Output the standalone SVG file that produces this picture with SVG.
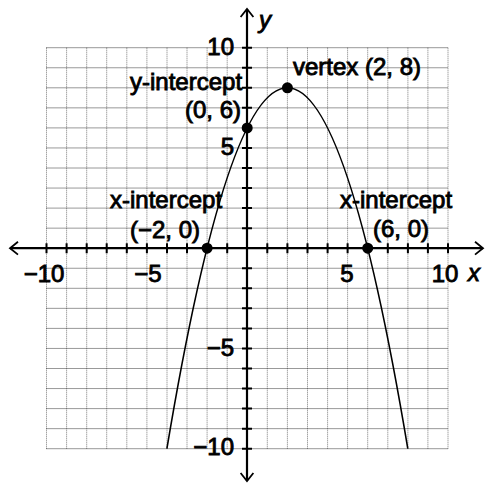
<svg xmlns="http://www.w3.org/2000/svg" width="488" height="484" viewBox="0 0 488 484">
<style>
.gv{stroke:#7a7a7a;stroke-width:1;stroke-dasharray:1 1;fill:none}
.gh{stroke:#333;stroke-width:1;stroke-dasharray:1 1;fill:none}
.ax{stroke:#000;stroke-width:2.2;fill:none}
.tk{stroke:#000;stroke-width:2;fill:none}
.ar{stroke:#000;stroke-width:1.8;fill:none;stroke-linejoin:miter}
.cv{stroke:#000;stroke-width:1.6;fill:none}
.pt{fill:#000}
text{font-family:"Liberation Sans",Arial,sans-serif;font-size:24px;fill:#000;stroke:#000;stroke-width:0.9}
.r{text-anchor:end}
.m{text-anchor:middle}
.i{font-style:italic}
</style>
<rect width="488" height="484" fill="#fff"/>
<g id="grid">
<path class="gv" d="M46.5,47.7V448.7M66.6,47.7V448.7M86.7,47.7V448.7M106.7,47.7V448.7M126.8,47.7V448.7M146.9,47.7V448.7M167,47.7V448.7M187,47.7V448.7M207.1,47.7V448.7M227.2,47.7V448.7M267.3,47.7V448.7M287.4,47.7V448.7M307.5,47.7V448.7M327.6,47.7V448.7M347.6,47.7V448.7M367.7,47.7V448.7M387.8,47.7V448.7M407.9,47.7V448.7M427.9,47.7V448.7M448,47.7V448.7"/>
<path class="gh" d="M46.5,47.7H448M46.5,67.75H448M46.5,87.8H448M46.5,107.85H448M46.5,127.9H448M46.5,147.95H448M46.5,168H448M46.5,188.05H448M46.5,208.1H448M46.5,228.15H448M46.5,268.25H448M46.5,288.3H448M46.5,308.35H448M46.5,328.4H448M46.5,348.45H448M46.5,368.5H448M46.5,388.55H448M46.5,408.6H448M46.5,428.65H448M46.5,448.7H448"/>
</g>
<g id="axes">
<path class="ax" d="M10,248.2H483M247,9V481"/>
<path class="ar" d="M18,241.8L10,248.2L18,254.6M475,241.8L483,248.2L475,254.6M240.6,17L247,9L253.4,17M240.6,473L247,481L253.4,473"/>
<path class="tk" d="M46.5,243.2v10M66.6,243.2v10M86.7,243.2v10M106.7,243.2v10M126.8,243.2v10M146.9,243.2v10M167,243.2v10M187,243.2v10M207.1,243.2v10M227.2,243.2v10M267.3,243.2v10M287.4,243.2v10M307.5,243.2v10M327.6,243.2v10M347.6,243.2v10M367.7,243.2v10M387.8,243.2v10M407.9,243.2v10M427.9,243.2v10M448,243.2v10"/>
<path class="tk" d="M242,47.7h10M242,67.75h10M242,87.8h10M242,107.85h10M242,127.9h10M242,147.95h10M242,168h10M242,188.05h10M242,208.1h10M242,228.15h10M242,268.25h10M242,288.3h10M242,308.35h10M242,328.4h10M242,348.45h10M242,368.5h10M242,388.55h10M242,408.6h10M242,428.65h10M242,448.7h10"/>
</g>
<g id="axis-labels">
<text class="r" x="234" y="55">10</text>
<text class="r" x="234" y="155">5</text>
<text class="r" x="234" y="356">−5</text>
<text class="r" x="234" y="455">−10</text>
<text class="m" x="44" y="282">−10</text>
<text class="m" x="148" y="282">−5</text>
<text class="m" x="347" y="282">5</text>
<text class="m" x="445" y="282">10</text>
<text class="i" x="468" y="281">x</text>
<text class="i" x="259" y="28">y</text>
</g>
<g id="curve">
<path class="cv" d="M166.9,448.7Q287.4,-273.1 407.8,448.7"/>
</g>
<g id="vertex">
<circle class="pt" cx="287.4" cy="87.8" r="5.5"/>
<text x="293" y="75">vertex (2, 8)</text>
</g>
<g id="y-intercept">
<circle class="pt" cx="247.2" cy="127.9" r="5.5"/>
<text x="130" y="90">y-intercept</text>
<text x="185" y="118">(0, 6)</text>
</g>
<g id="x-intercept-left">
<circle class="pt" cx="207.1" cy="248.2" r="5.5"/>
<text x="110" y="208">x-intercept</text>
<text x="130" y="238">(−2, 0)</text>
</g>
<g id="x-intercept-right">
<circle class="pt" cx="367.7" cy="248.2" r="5.5"/>
<text x="340" y="208">x-intercept</text>
<text x="373" y="237">(6, 0)</text>
</g>
</svg>
